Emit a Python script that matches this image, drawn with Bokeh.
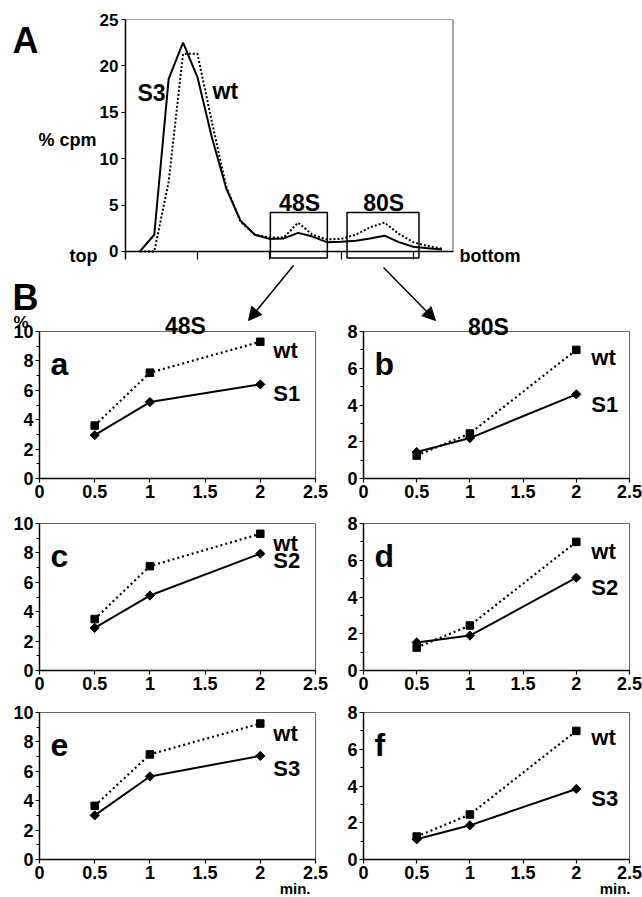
import numpy as np
from bokeh.plotting import figure
from bokeh.layouts import column, row
from bokeh.models import FixedTicker, Label, Arrow, NormalHead, Span, Range1d
from bokeh.core.properties import value
from bokeh.embed import file_html
from bokeh.resources import INLINE

FONT = "Liberation Sans"

# ---------------- Panel A data (gradient profile, % cpm per fraction) ----------------
fraction = list(range(1, 23))
s3_profile = [0.0, 1.8, 18.6, 22.5, 18.8, 12.3, 6.8, 3.3, 1.8, 1.35, 1.4, 2.0,
              1.6, 1.0, 1.05, 1.15, 1.4, 1.7, 1.0, 0.5, 0.35, 0.2]
wt_profile = [0.0, 0.0, 7.5, 21.3, 21.3, 14.0, 7.0, 3.2, 1.8, 1.5, 1.5, 3.1,
              1.8, 1.3, 1.35, 1.8, 2.6, 3.1, 1.9, 1.0, 0.6, 0.3]
a_yticks = [0, 5, 10, 15, 20, 25]
a_xticks = [5, 10, 15, 20]
peak_names = ["48S", "80S"]
peak_left = [10.07, 15.4]
peak_right = [14.03, 20.4]
peak_top = [4.2, 4.2]
peak_bottom = [-0.7, -0.7]

# ---------------- Panel B data (% in 48S / 80S vs time, min) ----------------
minutes = [0.5, 1, 2]
x_ticks = [0, 0.5, 1, 1.5, 2, 2.5]
wt_48a = [3.6, 7.2, 9.3]
s1_48 = [2.95, 5.2, 6.4]
wt_80b = [1.25, 2.45, 7.0]
s1_80 = [1.44, 2.2, 4.58]
wt_48c = [3.5, 7.1, 9.3]
s2_48 = [2.9, 5.1, 7.95]
wt_80d = [1.25, 2.45, 7.0]
s2_80 = [1.53, 1.9, 5.05]
wt_48e = [3.65, 7.15, 9.25]
s3_48 = [3.0, 5.65, 7.05]
wt_80f = [1.25, 2.45, 7.0]
s3_80 = [1.1, 1.86, 3.84]


def style_axis(ax, size):
    ax.axis_line_color = "black"
    ax.axis_line_width = 1.5
    ax.major_tick_line_color = "black"
    ax.major_tick_line_width = 1.2
    ax.minor_tick_line_color = "black"
    ax.major_label_text_font = FONT
    ax.major_label_text_font_style = "bold"
    ax.major_label_text_font_size = size
    ax.major_label_text_color = "black"


def lab(p, x, y, text, size, align="left", baseline="alphabetic"):
    p.add_layout(Label(x=x, y=y, text=text, text_font=FONT, text_font_style="bold",
                       text_font_size=size, text_color="black", text_align=align,
                       text_baseline=baseline))


# ---------------- Panel A figure ----------------
AW, AH = 642, 306
A_BL, A_BR, A_BT, A_BB = 125, 189, 19, 47
AX0, AX1 = 0, 22.8
AY0, AY1 = -0.87, 25
pa = figure(width=AW, height=AH, x_range=Range1d(AX0, AX1), y_range=Range1d(AY0, AY1),
            output_backend="svg", toolbar_location=None,
            min_border_left=A_BL, min_border_right=A_BR, min_border_top=A_BT, min_border_bottom=A_BB)
pa.grid.visible = False
pa.outline_line_color = None
afw = AW - A_BL - A_BR
afh = AH - A_BT - A_BB
adx = (AX1 - AX0) / afw
ady = (AY1 - AY0) / afh


def ax_(px):
    return AX0 + (px - A_BL) * adx


def ay_(py):
    return AY1 - (py - A_BT) * ady


style_axis(pa.yaxis, "17px")
pa.yaxis.ticker = FixedTicker(ticks=a_yticks)
pa.yaxis.major_tick_out = 4
pa.yaxis.major_tick_in = 0
pa.yaxis.major_label_standoff = 3
pa.yaxis.minor_tick_out = 0

pa.xaxis.axis_line_color = None
pa.xaxis.ticker = FixedTicker(ticks=a_xticks)
pa.xaxis.major_tick_in = 8
pa.xaxis.major_tick_out = 0
pa.xaxis.major_tick_line_color = "black"
pa.xaxis.major_tick_line_width = 1.2
pa.xaxis.minor_tick_out = 0
pa.xaxis.major_label_overrides = {t: "" for t in a_xticks}

pa.add_layout(Span(location=0, dimension="width", line_color="black", line_width=1.5))
pa.add_layout(Span(location=AY1, dimension="width", line_color="#555555", line_width=1.2))
pa.segment(x0=[AX1], y0=[0], x1=[AX1], y1=[AY1], line_color="#555555", line_width=2)

pa.line(fraction, wt_profile, line_color="black", line_width=2, line_dash="2 2")
pa.line(fraction, s3_profile, line_color="black", line_width=2)
pa.quad(left=peak_left, right=peak_right, bottom=peak_bottom, top=peak_top,
        fill_color=None, line_color="black", line_width=1.5)

lab(pa, ax_(137), ay_(92), "S3", "23px")
lab(pa, ax_(212), ay_(90), "wt", "23px")
for nm, l, r in zip(peak_names, peak_left, peak_right):
    lab(pa, (l + r) / 2 + 0.05, ay_(202), nm, "23px", align="center")


# ---------------- Panel B figures ----------------
def make_b(wt, mut, mut_name, ymax, width, bl, br, height, bt, bb, letter,
           wt_off, mut_off, lab_dx):
    p = figure(width=width, height=height, x_range=Range1d(0, 2.5), y_range=Range1d(0, ymax),
               output_backend="svg", toolbar_location=None,
               min_border_left=bl, min_border_right=br, min_border_top=bt, min_border_bottom=bb)
    p.grid.visible = False
    p.outline_line_color = "#666666"
    p.outline_line_width = 1
    fw = width - bl - br
    fh = height - bt - bb
    dx = 2.5 / fw
    dy = ymax / fh
    style_axis(p.xaxis, "18px")
    style_axis(p.yaxis, "18px")
    p.xaxis.ticker = FixedTicker(ticks=x_ticks)
    p.yaxis.ticker = FixedTicker(ticks=list(range(0, ymax + 1, 2)),
                                 minor_ticks=list(range(1, ymax, 2)))
    for ax in (p.xaxis[0], p.yaxis[0]):
        ax.major_tick_out = 4
        ax.major_tick_in = 0
        ax.minor_tick_out = 3
        ax.minor_tick_in = 0
        ax.major_label_standoff = 2
    p.xaxis.minor_tick_out = 0

    p.line(minutes, wt, line_color="black", line_width=2.2, line_dash="2 3")
    p.scatter(minutes, wt, marker="square", size=7.5, color="black")
    p.line(minutes, mut, line_color="black", line_width=2)
    p.scatter(minutes, mut, marker="square", angle=np.pi / 4, size=6.5, color="black")

    lab(p, 11 * dx, ymax - 32 * dy, letter, "32px")
    lab(p, minutes[-1] + lab_dx * dx, wt[-1] - wt_off * dy, "wt", "22px")
    lab(p, minutes[-1] + lab_dx * dx, mut[-1] - mut_off * dy, mut_name, "22px")
    return p


LW, RW = 328, 314
LBL, LBR = 39, 13
RBL, RBR = 35, 13
R1H, R1T, R1B = 199, 25, 27
R2H, R2T, R2B = 192, 18, 27
R3H, R3T, R3B = 200, 15, 38

fa = make_b(wt_48a, s1_48, "S1", 10, LW, LBL, LBR, R1H, R1T, R1B, "a", 9, 9, 13)
fb = make_b(wt_80b, s1_80, "S1", 8, RW, RBL, RBR, R1H, R1T, R1B, "b", 8, 10, 15)
fc = make_b(wt_48c, s2_48, "S2", 10, LW, LBL, LBR, R2H, R2T, R2B, "c", 10, 7, 13)
fd = make_b(wt_80d, s2_80, "S2", 8, RW, RBL, RBR, R2H, R2T, R2B, "d", 10, 10, 15)
fe = make_b(wt_48e, s3_48, "S3", 10, LW, LBL, LBR, R3H, R3T, R3B, "e", 10, 13, 13)
ff = make_b(wt_80f, s3_80, "S3", 8, RW, RBL, RBR, R3H, R3T, R3B, "f", 7, 10, 15)

# ---------------- transparent overlay for texts and arrows between panels ----------------
PW, PH = AW, AH + R1H + R2H + R3H
ov = figure(width=PW, height=PH, x_range=Range1d(0, PW), y_range=Range1d(PH, 0),
            x_axis_type=None, y_axis_type=None, output_backend="svg", toolbar_location=None,
            min_border=0, min_border_left=0, min_border_right=0, min_border_top=0,
            min_border_bottom=0, background_fill_color=None, border_fill_color=None,
            outline_line_color=None)


def otext(x, y, text, size, align="left"):
    ov.text(x=[x], y=[y], text=[text], text_font=value(FONT), text_font_style="bold",
            text_font_size=size, text_color="black", text_align=align,
            text_baseline="alphabetic")


otext(12, 40, "A", "36px")
otext(12, 297, "B", "36px")
otext(67, 139, "% cpm", "18px", align="center")
otext(97, 255, "top", "18px", align="right")
otext(459, 255, "bottom", "18px")
otext(185, 325, "48S", "23px", align="center")
otext(488, 326, "80S", "23px", align="center")
otext(13, 322, "%", "17px")
otext(310, 888, "min.", "15px", align="right")
otext(630, 888, "min.", "15px", align="right")

for (x0, y0, x1, y1) in [(293, 265, 248, 320), (383, 267, 435, 320)]:
    ov.add_layout(Arrow(end=NormalHead(size=13, fill_color="black", line_color="black"),
                        x_start=x0, y_start=y0, x_end=x1, y_end=y1,
                        line_color="black", line_width=1.5))

ov_row = row(ov)
ov_row.margin = (-PH, 0, 0, 0)

layout = column(pa, row(fa, fb), row(fc, fd), row(fe, ff), ov_row)
open("out.html", "w").write(file_html(layout, INLINE))
